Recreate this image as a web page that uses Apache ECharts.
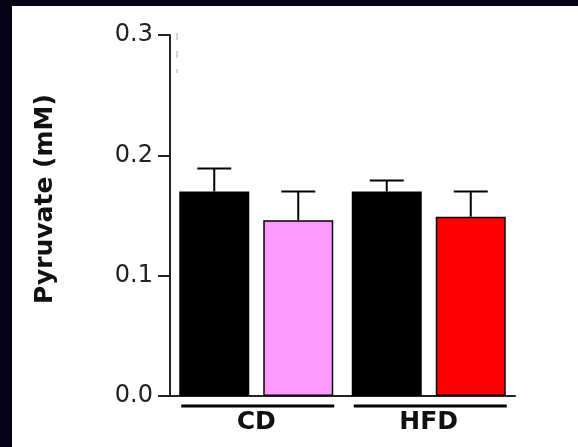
<!DOCTYPE html>
<html>
<head>
<meta charset="utf-8">
<script src="https://cdn.jsdelivr.net/npm/echarts@6/dist/echarts.min.js"></script>
<style>
  html, body { margin: 0; padding: 0; background: #050314; }
  #chart { width: 578px; height: 447px; }
</style>
</head>
<body>
<div id="chart"></div>
<script>
// data
var categories = ['CD', 'HFD']
var ctrlMean = [0.170, 0.170]
var ctrlErr = [0.019, 0.009]
var dietMean = [0.146, 0.149]
var dietErr = [0.024, 0.021]
var dietColors = ['#ff99ff', '#ff0000']
var yMin = 0
var yMax = 0.3
var yStep = 0.1

var barW = 70
var gapPx = 14
var shift = (barW + gapPx) / 2

var chart = echarts.init(document.getElementById('chart'))

// error bar drawn up from the top of the bar
function errorBar(side) {
  return function(params, api) {
    var i = api.value(0)
    var m = api.value(1)
    var e = api.value(2)
    var base = api.coord([i, m])
    var top = api.coord([i, m + e])
    var x = base[0] + side * shift
    var st = { stroke: '#000', lineWidth: 2 }
    return {
      type: 'group',
      children: [
        { type: 'line', shape: { x1: x, y1: base[1], x2: x, y2: top[1] }, style: st },
        { type: 'line', shape: { x1: x - 17, y1: top[1], x2: x + 17, y2: top[1] }, style: st }
      ]
    }
  }
}

var option = {
  backgroundColor: '#050314',
  animation: false,
  graphic: [
    { type: 'rect', z: -100, shape: { x: 12, y: 6, width: 566, height: 441 }, style: { fill: '#ffffff' }},
    { type: 'line', shape: { x1: 177, y1: 33, x2: 177, y2: 73 }, style: { stroke: '#c8c8c8', lineWidth: 1.5, lineDash: [7, 11] }},
    {
      type: 'text',
      x: 45,
      y: 199,
      rotation: Math.PI / 2,
      style: {
        text: 'Pyruvate (mM)',
        fill: '#111',
        font: 'bold 25px "DejaVu Sans"',
        textAlign: 'center',
        textVerticalAlign: 'middle'
      }
    }
  ],
  grid: { left: 170, right: 63, top: 35, bottom: 51 },
  xAxis: {
    type: 'category',
    data: categories,
    axisLine: { lineStyle: { color: '#222', width: 2 }},
    axisTick: { show: false },
    axisLabel: {
      color: '#111',
      fontSize: 25,
      fontWeight: 'bold',
      fontFamily: 'DejaVu Sans',
      margin: 14
    }
  },
  yAxis: {
    type: 'value',
    min: yMin,
    max: yMax,
    interval: yStep,
    splitLine: { show: false },
    axisLine: { show: true, lineStyle: { color: '#222', width: 2 }},
    axisTick: { show: true, length: 12, lineStyle: { color: '#222', width: 2 }},
    axisLabel: {
      color: '#222',
      fontSize: 24,
      fontFamily: 'DejaVu Sans',
      margin: 17,
      formatter: function(v) { return v.toFixed(1) }
    }
  },
  series: [
    {
      name: 'control',
      type: 'bar',
      barWidth: barW,
      barGap: (gapPx / barW * 100) + '%',
      data: ctrlMean,
      itemStyle: { color: '#000' }
    },
    {
      name: 'diet',
      type: 'bar',
      barWidth: barW,
      data: dietMean.map(function(v, i) {
        return { value: v, itemStyle: { color: dietColors[i], borderColor: '#000', borderWidth: 1.5 }}
      })
    },
    {
      type: 'custom',
      renderItem: errorBar(-1),
      encode: { x: 0, y: 1 },
      z: 3,
      data: categories.map(function(c, i) { return [i, ctrlMean[i], ctrlErr[i]] })
    },
    {
      type: 'custom',
      renderItem: errorBar(1),
      encode: { x: 0, y: 1 },
      z: 3,
      data: categories.map(function(c, i) { return [i, dietMean[i], dietErr[i]] })
    },
    {
      // group underline below each pair
      type: 'custom',
      clip: false,
      encode: { x: 0, y: 1 },
      renderItem: function(params, api) {
        var p = api.coord([api.value(0), yMin])
        return {
          type: 'line',
          shape: { x1: p[0] - 75, y1: p[1] + 10, x2: p[0] + 78, y2: p[1] + 10 },
          style: { stroke: '#000', lineWidth: 3 }
        }
      },
      data: categories.map(function(c, i) { return [i, yMin] })
    }
  ]
}

chart.setOption(option)
</script>
</body>
</html>
